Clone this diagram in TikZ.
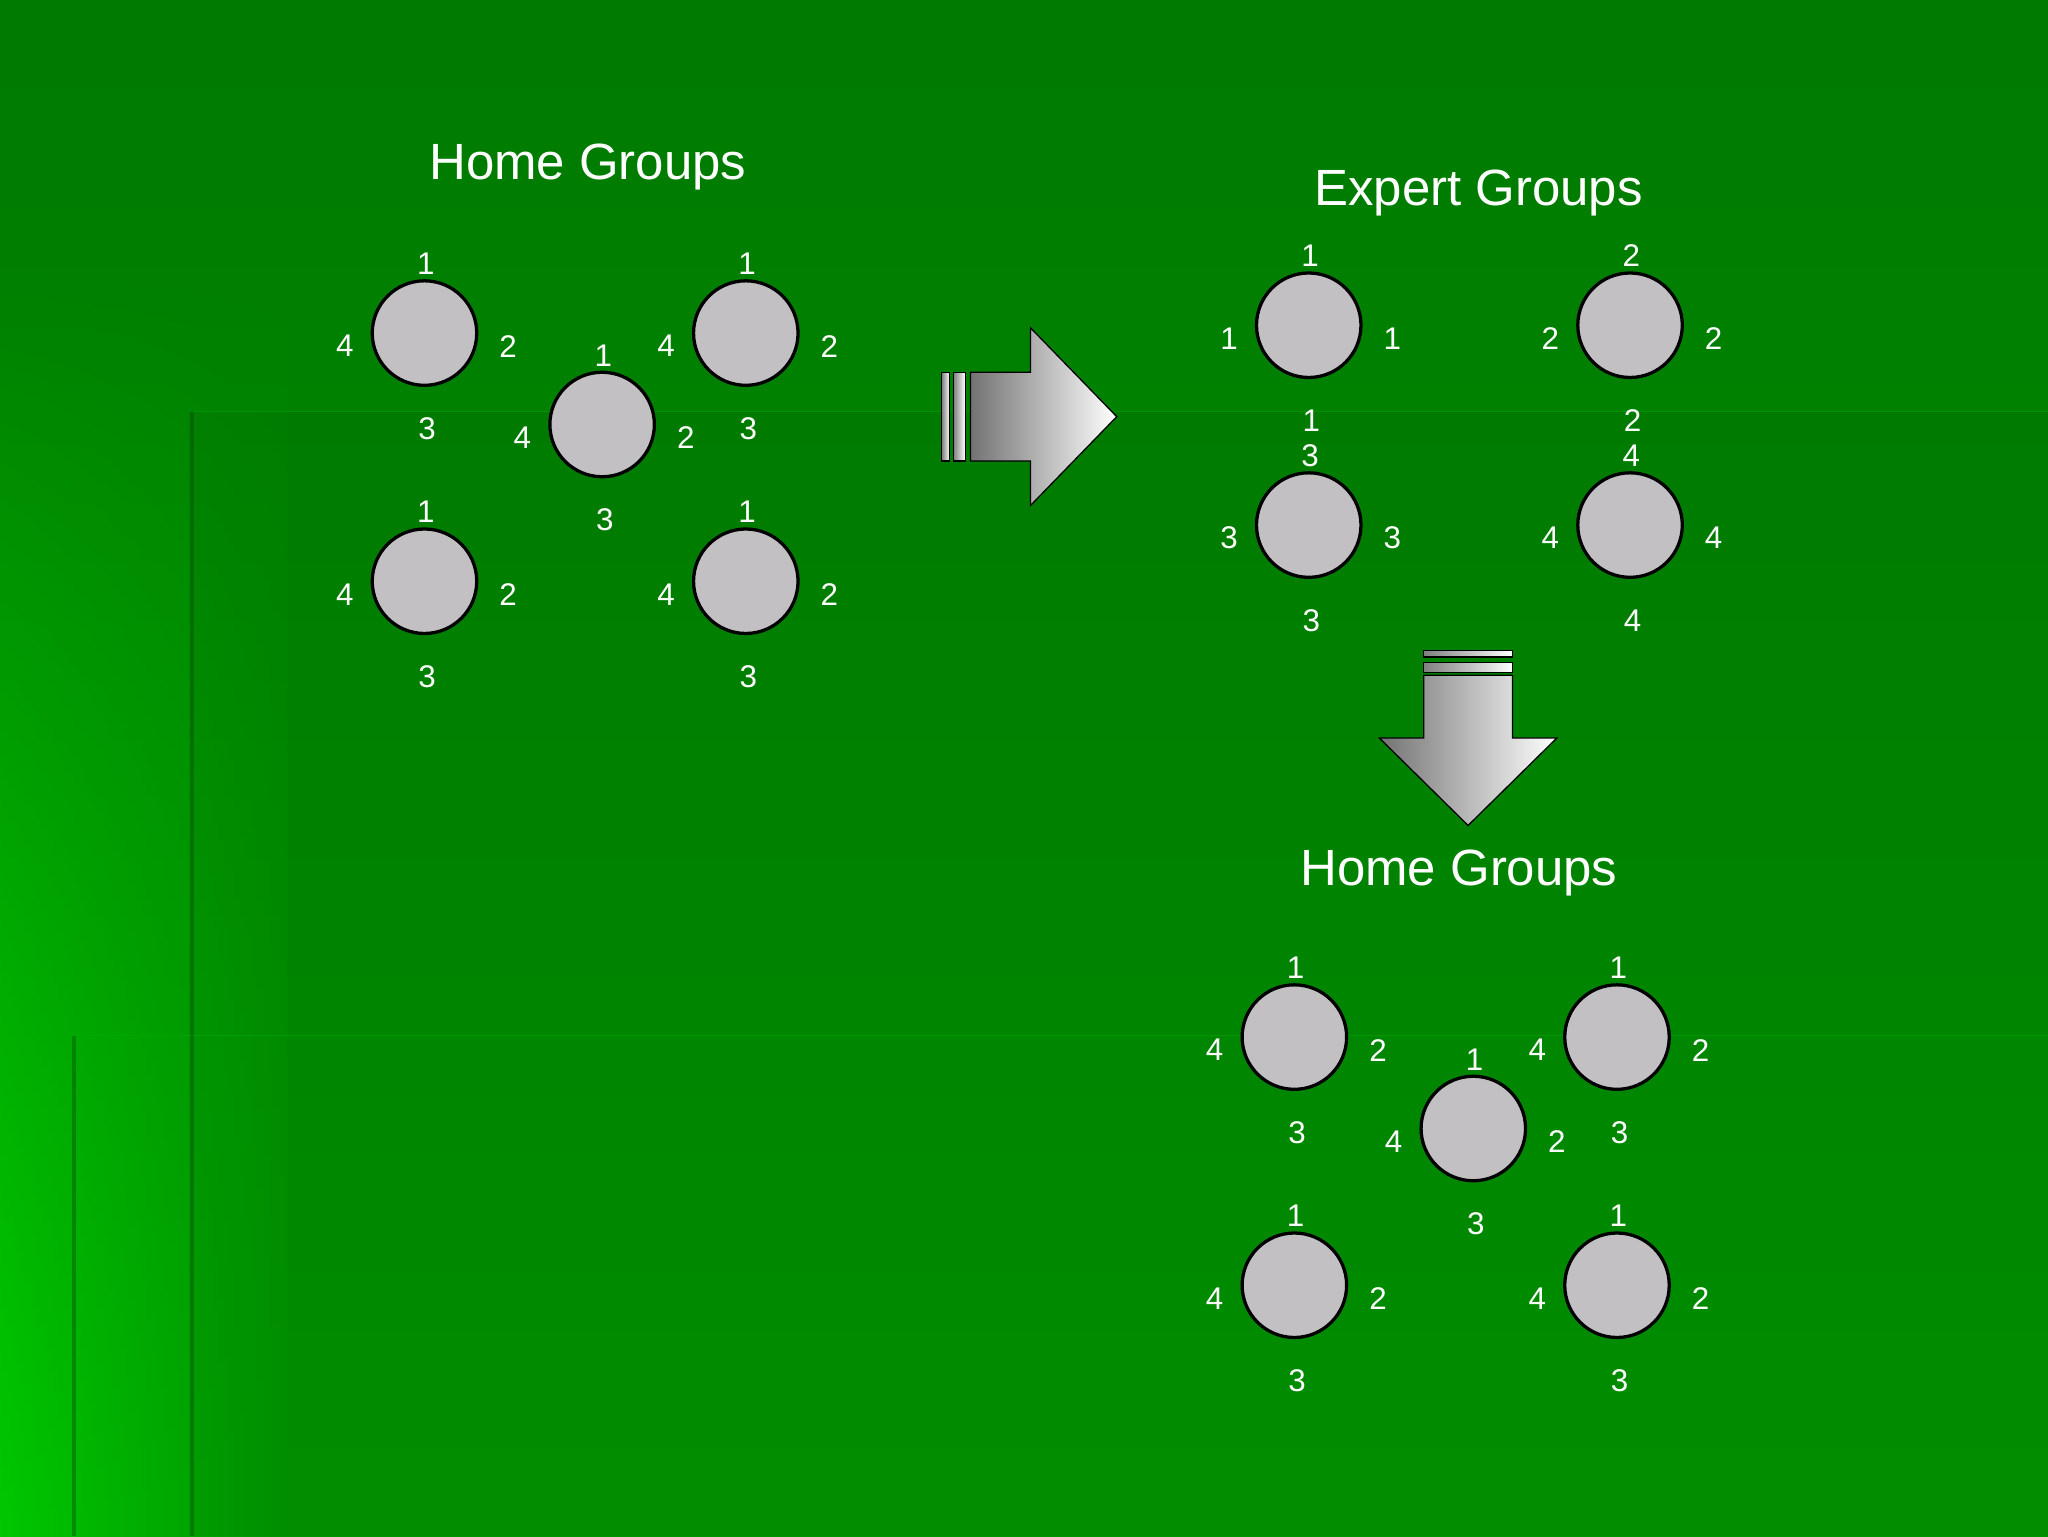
\documentclass[tikz,border=0pt]{standalone}
\usepackage{fontspec}
\setmainfont{Liberation Sans}
\usetikzlibrary{fadings}
\begin{document}
\begin{tikzpicture}[x=1pt,y=-1pt,
 disc/.style={circle,draw=black,line width=2.5pt,fill={rgb,255:red,194;green,192;blue,194},minimum size=80pt,inner sep=0pt},
 lab/.style={text=white,font=\fontsize{24}{24}\selectfont,inner sep=0pt},
 ttl/.style={text=white,font=\fontsize{39}{39}\selectfont,inner sep=0pt}]
\definecolor{gtop}{RGB}{0,122,0}
\definecolor{gbot}{RGB}{0,148,0}
\definecolor{gleft}{RGB}{0,200,0}
\useasboundingbox (0,0) rectangle (1568,1176);
\shade[top color=gtop,bottom color=gbot] (0,0) rectangle (1568,1176);
\shade[left color=gleft,right color=gbot,path fading=north] (0,200) rectangle (220,1176);
\fill[black,opacity=0.04] (145,315) rectangle (1568,1176);
\draw[green!30!black,opacity=0.4,line width=3pt] (147,315) -- (147,1176);
\draw[green!30!black,opacity=0.4,line width=3pt] (57,793) -- (57,1176);
\draw[green!70!black,opacity=0.4,line width=1pt] (145,315) -- (1568,315) (57,793) -- (1568,793);
% titles
\node[ttl] (t1) at (450,128) {Home Groups};
\node[ttl] (t2) at (1132,148) {Expert Groups};
\node[ttl] (t3) at (1117,668) {Home Groups};
\newcommand\grp[6]{%
 \node[disc] (#1) at (#2,#3) {};
 \node[lab] (#1a) at (#2+1,#3-53) {#4};
 \node[lab] (#1b) at (#2+64,#3+10) {#5};
 \node[lab] (#1c) at (#2+2,#3+73) {#6};
}
\newcommand\lft[4]{\node[lab] (#1d) at (#2-61,#3+10) {#4};}
\grp{a1}{325}{255}{1}{2}{3}\lft{a1}{325}{255}{4}
\grp{a2}{571}{255}{1}{2}{3}\lft{a2}{571}{255}{4}
\grp{a3}{461}{325}{1}{2}{3}\lft{a3}{461}{325}{4}
\grp{a4}{325}{445}{1}{2}{3}\lft{a4}{325}{445}{4}
\grp{a5}{571}{445}{1}{2}{3}\lft{a5}{571}{445}{4}
\grp{e1}{1002}{249}{1}{1}{1}\lft{e1}{1002}{249}{1}
\grp{e2}{1248}{249}{2}{2}{2}\lft{e2}{1248}{249}{2}
\grp{e3}{1002}{402}{3}{3}{3}\lft{e3}{1002}{402}{3}
\grp{e4}{1248}{402}{4}{4}{4}\lft{e4}{1248}{402}{4}
\grp{b1}{991}{794}{1}{2}{3}\lft{b1}{991}{794}{4}
\grp{b2}{1238}{794}{1}{2}{3}\lft{b2}{1238}{794}{4}
\grp{b3}{1128}{864}{1}{2}{3}\lft{b3}{1128}{864}{4}
\grp{b4}{991}{984}{1}{2}{3}\lft{b4}{991}{984}{4}
\grp{b5}{1238}{984}{1}{2}{3}\lft{b5}{1238}{984}{4}
\shade[left color=gray!90!black,right color=white,draw=black,line width=1pt]
 (743,285) -- (789,285) -- (789,251) -- (855,319) -- (789,387) -- (789,353) -- (743,353) -- cycle;
\shade[left color=gray,right color=white,draw=black,line width=1pt] (721,285) rectangle (727,353);
\shade[left color=gray,right color=white,draw=black,line width=1pt] (730,285) rectangle (739,353);
\shade[left color=gray!90!black,right color=white,draw=black,line width=1pt]
 (1090,517) -- (1158,517) -- (1158,565) -- (1192,565) -- (1124,632) -- (1056,565) -- (1090,565) -- cycle;
\shade[left color=gray,right color=white,draw=black,line width=1pt] (1090,498) rectangle (1158,503);
\shade[left color=gray,right color=white,draw=black,line width=1pt] (1090,507) rectangle (1158,515);
\end{tikzpicture}
\end{document}
